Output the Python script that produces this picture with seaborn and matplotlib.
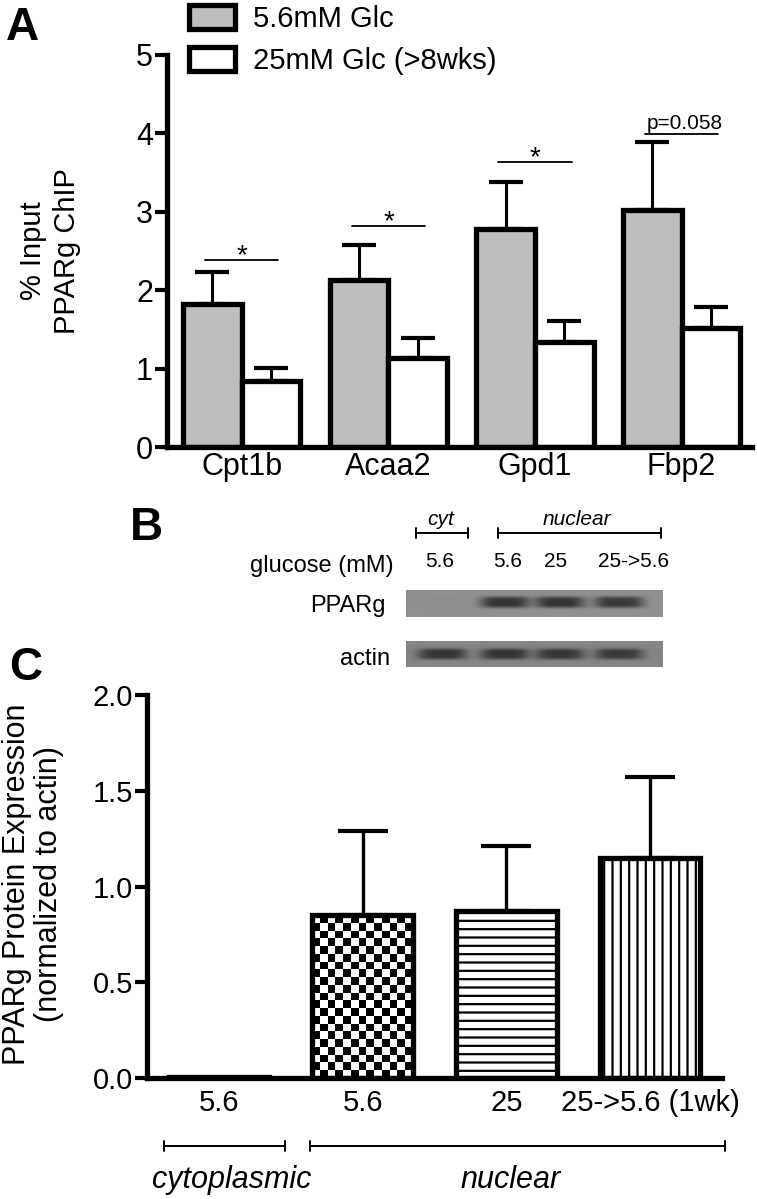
import numpy as np
import pandas as pd
import matplotlib
matplotlib.use("Agg")
import matplotlib.pyplot as plt
from matplotlib import font_manager
from matplotlib.lines import Line2D
from matplotlib.ticker import FormatStrFormatter
import seaborn as sns

# A: PPARg ChIP (% input)
genes = ["Cpt1b", "Acaa2", "Gpd1", "Fbp2"]
cond_labels = ["5.6mM Glc", "25mM Glc (>8wks)"]
chip_low = [1.82, 2.13, 2.78, 3.02]
chip_low_sem = [0.41, 0.45, 0.60, 0.87]
chip_high = [0.84, 1.13, 1.34, 1.52]
chip_high_sem = [0.17, 0.26, 0.27, 0.27]
sig_y = [2.39, 2.82, 3.64, 3.99]
sig_text = ["*", "*", "*", "p=0.058"]

# B: western blot lanes
lane_labels = ["5.6", "5.6", "25", "25->5.6"]
pparg_bands = [0.02, 1.0, 1.0, 0.95]
actin_bands = [1.0, 1.0, 0.97, 0.92]

# C: PPARg protein expression (normalized to actin)
c_keys = ["cyt 5.6", "nuc 5.6", "nuc 25", "nuc 25-5.6"]
c_labels = ["5.6", "5.6", "25", "25->5.6 (1wk)"]
ppar_expr = [0.004, 0.85, 0.87, 1.15]
ppar_sem = [0.0, 0.44, 0.34, 0.42]

sns.set_style("ticks", {"axes.edgecolor": "black", "xtick.color": "black",
                        "ytick.color": "black", "text.color": "black"})
plt.rcParams["font.family"] = ["Liberation Sans", "DejaVu Sans"]
plt.rcParams["hatch.linewidth"] = 1.6

names = {f.name for f in font_manager.fontManager.ttflist}
narrow = "Liberation Sans Narrow" if "Liberation Sans Narrow" in names else "Liberation Sans"

W, H = 757, 1199
fig = plt.figure(figsize=(W / 100, H / 100), dpi=100)


def rect(x0, y0, x1, y1):
    return [x0 / W, 1 - y1 / H, (x1 - x0) / W, (y1 - y0) / H]


def ftext(x, y, s, **kw):
    fig.text(x / W, 1 - y / H, s, **kw)


def bracket(x0, x1, y, tick=5, lw=1.4):
    fig.add_artist(Line2D([x0 / W, x1 / W], [1 - y / H] * 2, color="black", lw=lw))
    for xx in (x0, x1):
        fig.add_artist(Line2D([xx / W] * 2, [1 - (y - tick) / H, 1 - (y + tick) / H],
                              color="black", lw=lw))


def style_axis(ax, lw=3.8):
    sns.despine(ax=ax)
    for s in ["left", "bottom"]:
        ax.spines[s].set_linewidth(lw)
    ax.set_xlabel("")
    ax.set_ylabel("")


# ---------- Panel A ----------
axA = fig.add_axes(rect(167, 55, 752, 447))
dfA = pd.DataFrame({
    "gene": genes * 2,
    "cond": [cond_labels[0]] * 4 + [cond_labels[1]] * 4,
    "value": chip_low + chip_high,
})
sns.barplot(data=dfA, x="gene", y="value", hue="cond", order=genes, hue_order=cond_labels,
            palette=["#bebebe", "white"], saturation=1, edgecolor="black", linewidth=3.8,
            errorbar=None, width=0.8, legend=False, ax=axA)
for cont, sem in zip(axA.containers, [chip_low_sem, chip_high_sem]):
    xs = [p.get_x() + p.get_width() / 2 for p in cont]
    ys = [p.get_height() for p in cont]
    axA.errorbar(xs, ys, yerr=[np.zeros(len(sem)), sem], fmt="none", ecolor="black",
                 elinewidth=2.2, capsize=12, capthick=3, zorder=3)

for i, (yv, t) in enumerate(zip(sig_y, sig_text)):
    axA.plot([i - 0.25, i + 0.25], [yv, yv], color="black", lw=1.3)
    if t == "*":
        axA.text(i, yv - 0.04, t, ha="center", va="baseline", fontsize=20)
    else:
        axA.text(i + 0.02, yv + 0.07, t, ha="center", va="baseline", fontsize=15, family=narrow)

axA.set_xlim(-0.51, 3.48)
axA.set_ylim(0, 5)
axA.set_yticks(range(6))
style_axis(axA)
axA.tick_params(axis="y", length=9, width=3, pad=1, labelsize=22)
axA.tick_params(axis="x", length=0, pad=3.5, labelsize=22)

fig.legend(handles=list(axA.containers), labels=cond_labels, loc="upper left",
           bbox_to_anchor=(189 / W, 1 - 5 / H), frameon=False, fontsize=21,
           borderpad=0, borderaxespad=0, handlelength=1.58, handleheight=0.9,
           handletextpad=0.62, labelspacing=0.46)

ftext(50, 251, "% Input\nPPARg ChIP", rotation=90, ha="center", va="center",
      multialignment="center", fontsize=21, linespacing=1.3)
ftext(6, 40, "A", fontsize=33, weight="bold", va="baseline")

# ---------- Panel B ----------
ftext(130, 540, "B", fontsize=33, weight="bold", va="baseline")
ftext(441, 525, "cyt", fontsize=15, style="italic", family=narrow, ha="center", va="baseline")
ftext(577, 525, "nuclear", fontsize=15, style="italic", family=narrow, ha="center", va="baseline")
bracket(416, 468, 533)
bracket(498, 661, 533)
ftext(394, 572, "glucose (mM)", fontsize=17, ha="right", va="baseline")
for xc, lab in zip([440, 508, 556, 634], lane_labels):
    ftext(xc, 567, lab, fontsize=15, family=narrow, ha="center", va="baseline")
ftext(386, 612, "PPARg", fontsize=17, ha="right", va="baseline")
ftext(390, 665, "actin", fontsize=17, ha="right", va="baseline")

lane_pos = [0.14, 0.385, 0.60, 0.83]


def blot(ax, bands, bg, yc):
    xs = np.linspace(0, 1, 257)
    ys = np.linspace(0, 1, 27)[:, None]
    img = np.full((27, 257), bg)
    for c, amp in zip(lane_pos, bands):
        prof = np.exp(-((xs - c) / 0.095) ** 4) * np.exp(-((ys - yc) / 0.22) ** 4)
        img = img - amp * (bg - 0.2) * prof
    ax.imshow(img, cmap="gray", vmin=0, vmax=1, aspect="auto", interpolation="bilinear")
    ax.set_axis_off()


axP = fig.add_axes(rect(406, 590, 663, 617))
blot(axP, pparg_bands, 0.56, 0.45)
axAc = fig.add_axes(rect(406, 641, 663, 667))
blot(axAc, actin_bands, 0.52, 0.5)

# ---------- Panel C ----------
axC = fig.add_axes(rect(147, 695, 722, 1078))
sns.barplot(x=c_keys, y=ppar_expr, color="white", saturation=1, edgecolor="black",
            linewidth=3.8, width=0.7, ax=axC)
axC.set_xlim(-0.5, 3.5)
axC.set_ylim(0, 2)
bars = axC.containers[0]
bars[2].set_hatch("--")
bars[3].set_hatch("||")

# checkerboard fill for the nuclear 5.6 bar
cb = bars[1]
x0, x1, h = cb.get_x(), cb.get_x() + cb.get_width(), cb.get_height()
(px0, py0), (px1, py1) = axC.transData.transform([(x0, 0), (x1, h)])
nx = int(round((px1 - px0) / 7.8))
ny = int(round((py1 - py0) / 7.8))
checker = np.indices((ny, nx)).sum(axis=0) % 2
cb.set_facecolor("none")
cb.set_zorder(3)
im = axC.imshow(checker, cmap="gray_r", extent=(x0, x1, 0, h), aspect="auto",
                interpolation="nearest", zorder=2)
im.set_clip_path(cb)

mask = [s > 0 for s in ppar_sem]
xs = np.array([p.get_x() + p.get_width() / 2 for p in bars])[mask]
ys = np.array([p.get_height() for p in bars])[mask]
sem = np.array(ppar_sem)[mask]
axC.errorbar(xs, ys, yerr=[np.zeros(len(sem)), sem], fmt="none", ecolor="black",
             elinewidth=2.4, capsize=18, capthick=3, zorder=4)

axC.set_xlim(-0.5, 3.5)
axC.set_ylim(0, 2)
axC.set_yticks([0, 0.5, 1.0, 1.5, 2.0])
axC.yaxis.set_major_formatter(FormatStrFormatter("%.1f"))
axC.set_xticks(range(4))
axC.set_xticklabels(c_labels)
style_axis(axC)
axC.tick_params(axis="y", length=9, width=3, pad=1, labelsize=21)
axC.tick_params(axis="x", length=0, pad=8, labelsize=21)

ftext(33, 884, "PPARg Protein Expression\n(normalized to actin)", rotation=90,
      ha="center", va="center", multialignment="center", fontsize=22, linespacing=1.05)
ftext(9, 680, "C", fontsize=33, weight="bold", va="baseline")

bracket(164, 285, 1146)
bracket(310, 725, 1146)
ftext(232, 1188, "cytoplasmic", fontsize=22, style="italic", ha="center", va="baseline")
ftext(511, 1188, "nuclear", fontsize=22, style="italic", ha="center", va="baseline")

fig.savefig("out.png", dpi=100)
